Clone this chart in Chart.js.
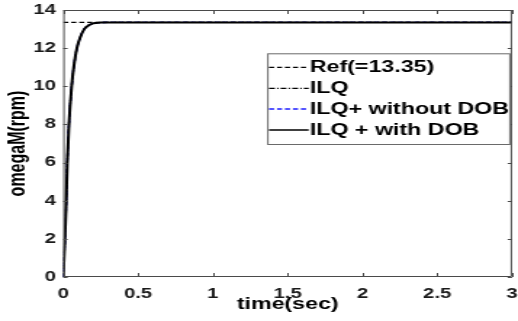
<!DOCTYPE html>
<html>
<head>
<meta charset="utf-8">
<script src="https://cdn.jsdelivr.net/npm/chart.js@4/dist/chart.umd.min.js"></script>
<style>
  html, body { margin: 0; padding: 0; background: #fff; overflow: hidden; }
  #wrap { width: 357px; height: 321px; transform: scaleX(1.451); transform-origin: 0 0; }
  canvas { display: block; }
</style>
</head>
<body>
<div id="wrap"><canvas id="c" width="357" height="321"></canvas></div>
<script>
// ---- data ----
const seriesLabels = ['Ref(=13.35)', 'ILQ', 'ILQ+ without DOB', 'ILQ + with DOB'];
const refTime = [0, 3];
const refValues = [13.35, 13.35];
const time = [0, 0.011, 0.02, 0.027, 0.038, 0.056, 0.07, 0.091, 0.115, 0.14, 0.17, 0.2, 0.25, 0.3, 3];
const ilqValues = [0, 2, 4, 6, 8, 10, 11, 12, 12.6, 13, 13.2, 13.3, 13.34, 13.35, 13.35];
const ilqPlusNoDobValues = [0, 2, 4, 6, 8, 10, 11, 12, 12.6, 13, 13.2, 13.3, 13.34, 13.35, 13.35];
const ilqPlusDobValues = [0, 2, 4, 6, 8, 10, 11, 12, 12.6, 13, 13.2, 13.3, 13.34, 13.35, 13.35];
const xTickValues = [0, 0.5, 1, 1.5, 2, 2.5, 3];
const xTickLabels = ['0', '0.5', '1', '1.5', '2', '2.5', '3'];
const yTickValues = [0, 2, 4, 6, 8, 10, 12, 14];
const yTickLabels = ['0', '2', '4', '6', '8', '10', '12', '14'];
const xTitle = 'time(sec)';
const yTitle = 'omegaM(rpm)';

const pts = (xs, ys) => xs.map((x, i) => ({x: x, y: ys[i]}));
const FONT = 'Liberation Sans, Arial, sans-serif';
const AXIS = '#4a4a4a';

const boxPlugin = {
  id: 'box',
  afterDatasetsDraw(chart) {
    const {ctx, chartArea: a, scales: {x, y}} = chart;
    ctx.save();
    ctx.strokeStyle = AXIS;
    ctx.lineWidth = 1;
    ctx.beginPath();
    ctx.rect(a.left + 0.5, a.top + 0.5, a.right - a.left - 1, a.bottom - a.top - 1);
    ctx.stroke();
    ctx.beginPath();
    xTickValues.forEach(v => {
      const px = Math.round(x.getPixelForValue(v)) + 0.5;
      ctx.moveTo(px, a.bottom); ctx.lineTo(px, a.bottom - 4);
      ctx.moveTo(px, a.top); ctx.lineTo(px, a.top + 4);
    });
    yTickValues.forEach(v => {
      const py = Math.round(y.getPixelForValue(v)) + 0.5;
      ctx.moveTo(a.left, py); ctx.lineTo(a.left + 3, py);
      ctx.moveTo(a.right, py); ctx.lineTo(a.right - 3, py);
    });
    ctx.stroke();
    ctx.restore();
  }
};

const legendPlugin = {
  id: 'boxLegend',
  afterDraw(chart) {
    const {ctx, chartArea: a} = chart;
    const R = a.right - 1, L = R - 167.8, T = 53.3, B = 145;
    ctx.save();
    ctx.fillStyle = '#fff';
    ctx.fillRect(L, T, R - L, B - T);
    ctx.strokeStyle = '#6a6a6a';
    ctx.lineWidth = 1;
    ctx.strokeRect(L + 0.5, T + 0.5, R - L - 1, B - T - 1);
    const rows = [67.3, 88.3, 109, 130];
    ctx.font = 'bold 16px ' + FONT;
    ctx.textBaseline = 'middle';
    chart.data.datasets.forEach((ds, i) => {
      const yy = rows[i];
      ctx.strokeStyle = ds.borderColor;
      ctx.lineWidth = ds.legendWidth;
      ctx.setLineDash(ds.borderDash || []);
      ctx.beginPath();
      ctx.moveTo(L + 1.3, yy); ctx.lineTo(L + 28.6, yy);
      ctx.stroke();
      ctx.setLineDash([]);
      ctx.fillStyle = '#000';
      ctx.fillText(ds.label, L + 29.4, yy + 0.5);
    });
    ctx.restore();
  }
};

new Chart(document.getElementById('c'), {
  type: 'line',
  data: {
    datasets: [
      { label: seriesLabels[0], data: pts(refTime, refValues), borderColor: '#000', borderWidth: 1.3, borderDash: [3.5, 2], legendWidth: 1.3, order: 3 },
      { label: seriesLabels[1], data: pts(time, ilqValues), borderColor: '#000', borderWidth: 1.3, borderDash: [4, 1.5, 1, 1.5], legendWidth: 1.3, order: 2 },
      { label: seriesLabels[2], data: pts(time, ilqPlusNoDobValues), borderColor: '#1a1aff', borderWidth: 1.3, borderDash: [3.5, 2], legendWidth: 1.3, order: 1 },
      { label: seriesLabels[3], data: pts(time, ilqPlusDobValues), borderColor: '#000', borderWidth: 2, legendWidth: 1.5, order: 0 }
    ]
  },
  options: {
    responsive: false,
    animation: false,
    devicePixelRatio: 1,
    layout: { padding: { left: 0, right: 4.1, top: 10, bottom: 0 } },
    elements: { point: { radius: 0 }, line: { cubicInterpolationMode: 'monotone', fill: false } },
    plugins: { legend: { display: false }, tooltip: { enabled: false } },
    scales: {
      x: {
        type: 'linear', min: 0, max: 3,
        grid: { display: false, drawTicks: false },
        border: { display: false },
        afterBuildTicks: s => { s.ticks = xTickValues.map(v => ({value: v})); },
        afterFit: s => { s.height = 44; s.paddingLeft = 0; s.paddingRight = 0; },
        ticks: { color: '#1a1a1a', padding: 9, maxRotation: 0, autoSkip: false,
                 callback: (v, i) => xTickLabels[i],
                 font: { family: FONT, size: 14, weight: 'bold' } },
        title: { display: true, text: xTitle, color: '#000', padding: { top: 0, bottom: 7 }, font: { family: FONT, size: 16, weight: 'bold' } }
      },
      y: {
        type: 'linear', min: 0, max: 14,
        grid: { display: false, drawTicks: false },
        border: { display: false },
        afterBuildTicks: s => { s.ticks = yTickValues.map(v => ({value: v})); },
        afterFit: s => { s.width = 43.6; s.paddingTop = 0; s.paddingBottom = 0; },
        ticks: { color: '#1a1a1a', padding: 5, autoSkip: false,
                 callback: (v, i) => yTickLabels[i],
                 font: { family: FONT, size: 14, weight: 'bold' } },
        title: { display: true, text: yTitle, color: '#000', padding: { top: 3, bottom: 0 }, font: { family: FONT, size: 16, weight: 'bold' } }
      }
    }
  },
  plugins: [boxPlugin, legendPlugin]
});
</script>
</body>
</html>
